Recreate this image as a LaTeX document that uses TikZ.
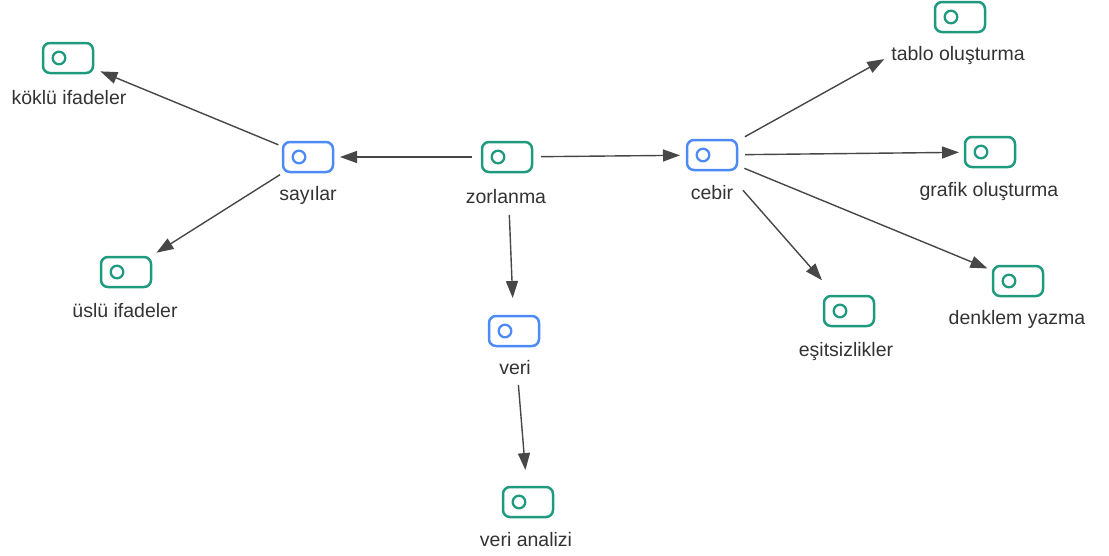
\documentclass[tikz,border=0pt]{standalone}
\usepackage{fontspec}
\setmainfont{Liberation Sans}
\usetikzlibrary{arrows.meta}
\definecolor{tgreen}{HTML}{1F9A7E}
\definecolor{tblue}{HTML}{4C8BF5}
\definecolor{arr}{HTML}{474747}
\definecolor{txt}{HTML}{333333}
\newcommand\mynode[7]{%
  \node[icon=#4] (#1) at (#2,#3) {};
  \draw[#4,line width=2.3pt] ([xshift=-9pt]#1.center) circle[radius=6.3pt];
  \node[lbl] (#1-l) at (#6,#7) {#5};
}
\begin{document}
\begin{tikzpicture}[x=1pt,y=-1pt,
  icon/.style={draw=#1, line width=2.5pt, rounded corners=7pt,
    minimum width=50pt, minimum height=30pt, inner sep=0pt, outer sep=0pt},
  lbl/.style={font=\fontsize{19.5}{22}\selectfont, text=txt, inner sep=0pt},
  con/.style={draw=arr, line width=1.4pt, -{Triangle[length=17pt,width=12pt]}}]
\useasboundingbox (0,0) rectangle (1109,555);

\mynode{kok}{68}{58}{tgreen}{köklü ifadeler}{69}{98}
\mynode{say}{308}{157}{tblue}{sayılar}{308}{195}
\mynode{zor}{507}{157}{tgreen}{zorlanma}{506}{197}
\mynode{ceb}{712}{155}{tblue}{cebir}{712}{193}
\mynode{tab}{960}{17}{tgreen}{tablo oluşturma}{958}{55}
\mynode{gra}{990}{152}{tgreen}{grafik oluşturma}{989}{191}
\mynode{den}{1018}{281}{tgreen}{denklem yazma}{1017}{319}
\mynode{esi}{849}{311}{tgreen}{eşitsizlikler}{846}{351}
\mynode{usl}{126}{272}{tgreen}{üslü ifadeler}{125}{311}
\mynode{ver}{514}{331}{tblue}{veri}{515}{368}
\mynode{van}{528}{502}{tgreen}{veri analizi}{526}{540}

\draw[con, shorten <=10pt, shorten >=7pt] (zor) -- (say);
\draw[con, shorten <=9pt, shorten >=7pt] (zor) -- (ceb);
\draw[con, shorten <=5pt, shorten >=8pt] (say) -- (kok);
\draw[con, shorten <=5pt, shorten >=8pt] (say) -- (usl);
\draw[con, shorten <=43pt, shorten >=18pt] (zor) -- (ver);
\draw[con, shorten <=39pt, shorten >=17pt] (ver) -- (van);
\draw[con, shorten <=9pt, shorten >=58pt] (ceb) -- (tab);
\draw[con, shorten <=8pt, shorten >=6pt] (ceb) -- (gra);
\draw[con, shorten <=8pt, shorten >=6pt] (ceb) -- (den);
\draw[con, shorten <=27pt, shorten >=21pt] (ceb) -- (esi);
\end{tikzpicture}
\end{document}
